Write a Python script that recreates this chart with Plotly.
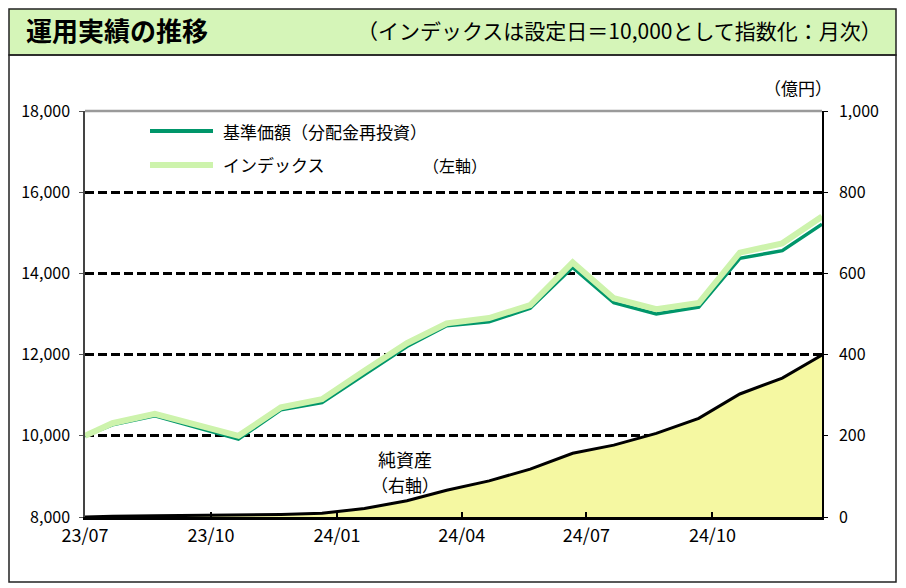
import plotly.graph_objects as go

# monthly data (setting date first, then monthly points)
DATES = ["2023-07-01", "2023-07-21", "2023-08-21", "2023-09-21", "2023-10-21",
         "2023-11-21", "2023-12-21", "2024-01-21", "2024-02-21", "2024-03-21",
         "2024-04-21", "2024-05-21", "2024-06-21", "2024-07-21", "2024-08-21",
         "2024-09-21", "2024-10-21", "2024-11-21", "2024-12-20"]
NAV = [10000, 10270, 10490, 10200, 9920, 10640, 10820, 11510, 12200, 12710,
       12810, 13140, 14150, 13280, 13000, 13170, 14370, 14560, 15210]
INDEX = [10000, 10310, 10540, 10260, 10000, 10700, 10900, 11600, 12280, 12770,
         12900, 13220, 14270, 13390, 13120, 13270, 14510, 14740, 15400]
AUM = [0, 2, 3, 4, 5, 6, 9, 21, 40, 66, 89, 118, 157, 177, 206, 243, 303, 342, 399]

TICK_DATES = ["2023-07-01", "2023-10-01", "2024-01-01", "2024-04-01", "2024-07-01", "2024-10-01"]
TICK_TEXT = ["23/07", "23/10", "24/01", "24/04", "24/07", "24/10"]
LEFT_TICKS = [8000, 10000, 12000, 14000, 16000, 18000]
RIGHT_TICKS = [0, 200, 400, 600, 800, 1000]

DARK_GREEN = "#00966A"
LIGHT_GREEN = "#CDF3AC"
FILL_YELLOW = "#F5F8A2"
HEADER_BG = "#D5F5B8"

JP = "Noto Sans CJK JP"

# the page puts the figure 8px from the top-left corner
OFF = 8
W, H = 906 - OFF, 588 - OFF
PLOT_L, PLOT_R, PLOT_T, PLOT_B = 85, 822, 111, 517   # page pixels
PW, PH = PLOT_R - PLOT_L, PLOT_B - PLOT_T


def px(x):
    return (x - PLOT_L) / PW


def py(y):
    return (PLOT_B - y) / PH


fig = go.Figure()

fig.add_trace(go.Scatter(
    x=DATES, y=AUM, yaxis="y2", mode="lines",
    line=dict(color="black", width=3),
    fill="tozeroy", fillcolor=FILL_YELLOW,
    name="純資産", showlegend=False,
))
fig.add_trace(go.Scatter(
    x=DATES, y=NAV, mode="lines",
    line=dict(color=DARK_GREEN, width=3.5),
    name="基準価額（分配金再投資）", showlegend=False,
))
fig.add_trace(go.Scatter(
    x=DATES, y=INDEX, mode="lines",
    line=dict(color=LIGHT_GREEN, width=6),
    name="インデックス", showlegend=False,
))

shapes = [
    # header band and frame
    dict(type="rect", xref="paper", yref="paper", x0=px(OFF + 1), x1=px(896), y0=py(OFF + 1), y1=py(55),
         fillcolor=HEADER_BG, line=dict(color="#222", width=1.5), layer="below"),
    dict(type="rect", xref="paper", yref="paper", x0=px(OFF + 1), x1=px(896), y0=py(55), y1=py(582),
         line=dict(color="#222", width=1.5), layer="below"),
    # gray plot-area top border under the dashed grid line
    dict(type="line", xref="paper", yref="paper", x0=0, x1=1, y0=1, y1=1,
         line=dict(color="#9a9a9a", width=2.5), layer="below"),
    # legend samples
    dict(type="line", xref="paper", yref="paper", x0=px(150), x1=px(213), y0=py(131), y1=py(131),
         line=dict(color=DARK_GREEN, width=4)),
    dict(type="line", xref="paper", yref="paper", x0=px(150), x1=px(213), y0=py(165), y1=py(165),
         line=dict(color=LIGHT_GREEN, width=6)),
]

annotations = [
    dict(text="<b>運用実績の推移</b>", x=px(24), y=py(30), xanchor="left",
         font=dict(family=JP, size=26, color="black")),
    dict(text="（インデックスは設定日＝10,000として指数化：月次）", x=px(884), y=py(30),
         xanchor="right", font=dict(family=JP, size=21, color="black")),
    dict(text="（億円）", x=px(834), y=py(88), font=dict(family=JP, size=17, color="black")),
    dict(text="基準価額（分配金再投資）", x=px(221), y=py(131), xanchor="left",
         font=dict(family=JP, size=17, color="black")),
    dict(text="インデックス", x=px(221), y=py(165), xanchor="left",
         font=dict(family=JP, size=17, color="black")),
    dict(text="（左軸）", x=px(455), y=py(165), font=dict(family=JP, size=16, color="black")),
    dict(text="純資産", x=px(405), y=py(459), font=dict(family=JP, size=18, color="black")),
    dict(text="（右軸）", x=px(405), y=py(484), font=dict(family=JP, size=17, color="black")),
]
for a in annotations:
    a.update(xref="paper", yref="paper", showarrow=False, yanchor="middle")

fig.update_layout(
    width=W, height=H,
    margin=dict(l=PLOT_L - OFF, r=W - (PLOT_R - OFF), t=PLOT_T - OFF, b=H - (PLOT_B - OFF)),
    paper_bgcolor="white", plot_bgcolor="rgba(0,0,0,0)",
    shapes=shapes, annotations=annotations,
    xaxis=dict(
        type="date", range=[DATES[0], DATES[-1]],
        tickvals=TICK_DATES, ticktext=TICK_TEXT,
        ticks="inside", ticklen=5, tickwidth=1.5, tickcolor="black",
        showline=True, linecolor="black", linewidth=3,
        showgrid=False, zeroline=False,
        tickfont=dict(family=JP, size=18, color="black"),
    ),
    yaxis=dict(
        range=[8000, 18000], tickvals=LEFT_TICKS, tickformat=",",
        ticks="outside", ticklen=4, tickcolor="#555",
        showline=True, linecolor="#444", linewidth=1.5,
        showgrid=True, gridcolor="black", gridwidth=2.6, griddash="9px,4px",
        zeroline=False, ticklabelstandoff=6,
        tickfont=dict(family=JP, size=16, color="black"),
    ),
    yaxis2=dict(
        range=[0, 1000], tickvals=RIGHT_TICKS, tickformat=",",
        overlaying="y", side="right",
        ticks="outside", ticklen=4, tickcolor="black",
        showline=True, linecolor="black", linewidth=1.5,
        showgrid=False, zeroline=False, ticklabelstandoff=8,
        tickfont=dict(family=JP, size=16, color="black"),
    ),
)

fig.write_html("out.html")
